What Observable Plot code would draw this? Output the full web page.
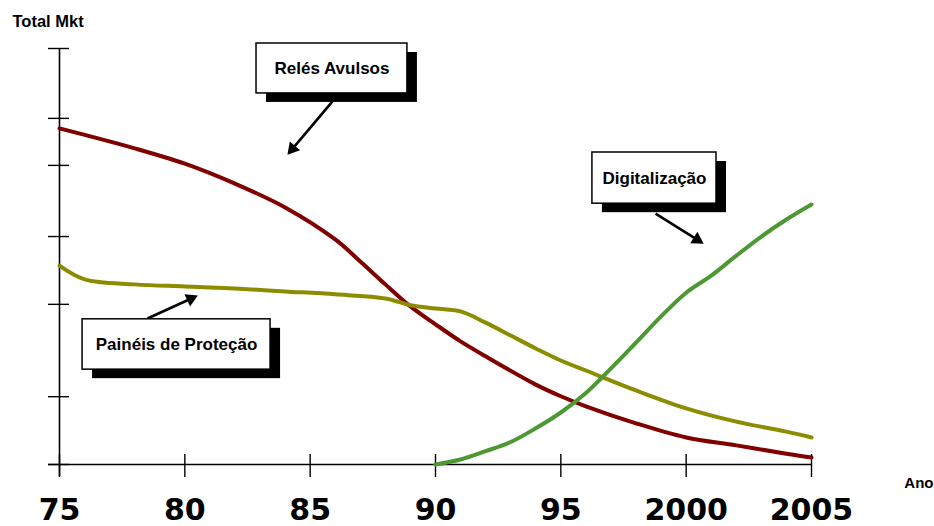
<!DOCTYPE html>
<html>
<head>
<meta charset="utf-8">
<script src="https://cdn.jsdelivr.net/npm/d3@7"></script>
<script src="https://cdn.jsdelivr.net/npm/@observablehq/plot@0.6"></script>
<style>
  html, body { margin: 0; padding: 0; background: #fff; }
  #chart svg { display: block; }
  g[aria-label="x-axis tick label"] text { font: bold 30px "DejaVu Sans", Verdana, sans-serif; }
</style>
</head>
<body>
<div id="chart"></div>
<script>
// ---- data ----
const relesYears = [1975,1978,1980,1982,1984,1986,1987,1988,1989,1990,1991,1992,1994,1995,1996,1998,2000,2002,2004,2005];
const relesValues = [80.8,76.0,72.3,67.5,61.8,54.1,48.8,43.3,38.0,33.7,29.6,26.0,19.2,16.4,14.0,9.9,6.5,4.6,2.6,1.7];

const paineisYears = [1975,1976,1978,1980,1982,1984,1986,1988,1989,1990,1991,1992,1993,1994,1995,1996,1998,2000,2002,2004,2005];
const paineisValues = [47.8,44.5,43.3,42.8,42.3,41.6,40.9,39.9,38.3,37.5,36.8,34.1,31.0,27.9,25.0,22.6,17.8,13.5,10.3,7.9,6.5];

const digitalYears = [1990,1991,1992,1993,1994,1995,1996,1997,1998,1999,2000,2001,2002,2003,2004,2005];
const digitalValues = [0,1.2,3.2,5.4,8.7,12.5,17.2,23.1,29.3,35.6,41.3,45.4,50.2,54.8,58.9,62.5];

const xTicks = [1975,1980,1985,1990,1995,2000,2005];
const yTicks = [0,16.3,38.5,54.8,71.9,83.2,100];

const noteLabels = ["Relés Avulsos", "Digitalização", "Painéis de Proteção"];
const noteX1 = [1982.86, 1996.26, 1975.92];
const noteX2 = [1988.88, 2001.21, 1983.42];
const noteY1 = [89.2, 62.7, 22.8];
const noteY2 = [101.2, 75.0, 34.9];
const arrowFromX = [1985.89, 1998.78, 1978.51];
const arrowFromY = [87.3, 60.3, 35.1];
const arrowToX = [1984.10, 2000.69, 1980.51];
const arrowToY = [74.5, 53.1, 40.6];

// ---- layout ----
const W = 934, H = 526, mL = 59, mR = 123, mT = 48, mB = 62;
const xDomain = [1975, 2005], yDomain = [0, 100];
const xs = d3.scaleLinear(xDomain, [mL, W - mR]);
const ys = d3.scaleLinear(yDomain, [H - mB, mT]);

// ---- build tables ----
const series = (name, xv, yv) => xv.map((x, i) => ({series: name, year: x, value: yv[i]}));
const reles = series("Relés Avulsos", relesYears, relesValues);
const paineis = series("Painéis de Proteção", paineisYears, paineisValues);
const digital = series("Digitalização", digitalYears, digitalValues);

const headTip = 7.5; // px from triangle centroid to tip
const notes = noteLabels.map((label, i) => {
  const p1x = xs(arrowFromX[i]), p1y = ys(arrowFromY[i]);
  const p2x = xs(arrowToX[i]), p2y = ys(arrowToY[i]);
  const vx = p2x - p1x, vy = p2y - p1y, L = Math.hypot(vx, vy);
  const ux = vx / L, uy = vy / L;
  const cxp = p2x - ux * headTip, cyp = p2y - uy * headTip;
  return {
    label, x1: noteX1[i], x2: noteX2[i], y1: noteY1[i], y2: noteY2[i],
    cx: (noteX1[i] + noteX2[i]) / 2, cy: (noteY1[i] + noteY2[i]) / 2,
    ax1: arrowFromX[i], ay1: arrowFromY[i],
    hx: xs.invert(cxp), hy: ys.invert(cyp),
    rot: Math.atan2(ux, -uy) * 180 / Math.PI
  };
});

const fmtYear = d => d < 2000 ? String(d).slice(2) : String(d);
const labelFont = "Liberation Sans, Arial, Helvetica, sans-serif";

const chart = Plot.plot({
  width: W,
  height: H,
  marginLeft: mL,
  marginRight: mR,
  marginTop: mT,
  marginBottom: mB,
  style: {background: "#fff", overflow: "visible"},
  x: {domain: xDomain},
  y: {domain: yDomain},
  marks: [
    // axis lines
    Plot.ruleX([1975], {stroke: "#000", strokeWidth: 1.6, insetBottom: -12}),
    Plot.ruleY([0], {stroke: "#000", strokeWidth: 1.6, insetLeft: -11}),
    // y ticks (crossing the axis)
    Plot.axisY({ticks: yTicks, tickSize: 21, dx: 10, tickFormat: () => "", stroke: "#000", strokeWidth: 1.4, strokeOpacity: 1, label: null}),
    // x ticks (crossing the axis)
    Plot.axisX({ticks: xTicks, tickSize: 23, dy: -10, tickFormat: () => "", stroke: "#000", strokeWidth: 1.4, strokeOpacity: 1, label: null}),
    // x tick labels
    Plot.axisX({ticks: xTicks, tickSize: 0, tickPadding: 34, tickFormat: fmtYear, fill: "#000", label: null}),
    // series lines
    Plot.line(reles, {x: "year", y: "value", stroke: "#800000", strokeWidth: 4, curve: "catmull-rom"}),
    Plot.line(paineis, {x: "year", y: "value", stroke: "#8c8c00", strokeWidth: 4, curve: "catmull-rom"}),
    Plot.line(digital, {x: "year", y: "value", stroke: "#4e9834", strokeWidth: 4, curve: "catmull-rom"}),
    // annotation arrows: shaft + filled head
    Plot.link(notes, {x1: "ax1", y1: "ay1", x2: "hx", y2: "hy", stroke: "#000", strokeWidth: 2.6}),
    Plot.dot(notes, {x: "hx", y: "hy", symbol: "triangle", r: 5, fill: "#000", stroke: "none", rotate: "rot"}),
    // annotation boxes with shadows
    Plot.rect(notes, {x1: "x1", x2: "x2", y1: "y1", y2: "y2", fill: "#000", dx: 10, dy: 9}),
    Plot.rect(notes, {x1: "x1", x2: "x2", y1: "y1", y2: "y2", fill: "#fff", stroke: "#000", strokeWidth: 1.5}),
    Plot.text(notes, {x: "cx", y: "cy", text: "label", fill: "#000", fontSize: 17, fontWeight: "bold", fontFamily: labelFont, textAnchor: "middle", lineAnchor: "middle"}),
    // axis titles
    Plot.text(["Total Mkt"], {frameAnchor: "top-left", dx: -47, dy: -27, text: d => d, fill: "#000", fontSize: 16.5, fontWeight: "bold", fontFamily: labelFont, textAnchor: "start", lineAnchor: "middle"}),
    Plot.text(["Ano"], {frameAnchor: "bottom-right", dx: 122, dy: 19, text: d => d, fill: "#000", fontSize: 15, fontWeight: "bold", fontFamily: labelFont, textAnchor: "end", lineAnchor: "middle"})
  ]
});
document.getElementById("chart").append(chart);
</script>
</body>
</html>
